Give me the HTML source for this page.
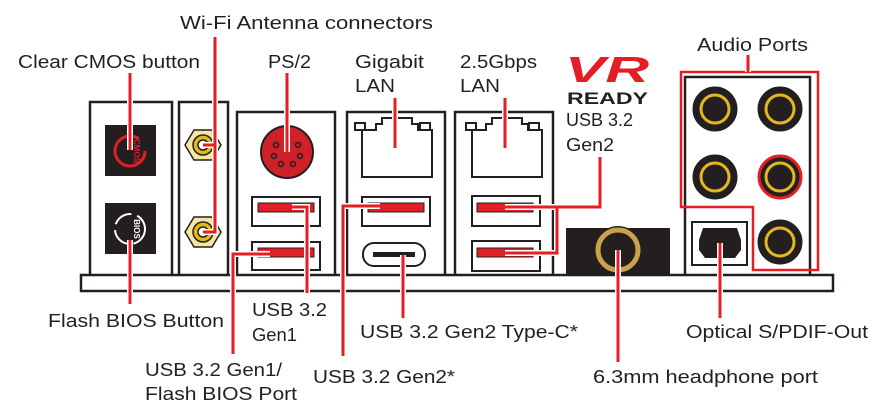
<!DOCTYPE html>
<html><head><meta charset="utf-8"><style>
html,body{margin:0;padding:0;background:#fff;width:879px;height:413px;overflow:hidden}
svg text{font-family:"Liberation Sans",sans-serif;font-size:18px;fill:#231f20}
</style></head><body>
<svg width="879" height="413" viewBox="0 0 879 413" xmlns="http://www.w3.org/2000/svg">
<g fill="#fff" stroke="#231f20" stroke-width="2.5">
<rect x="90" y="102" width="82" height="174"/>
<rect x="179" y="102" width="49" height="174"/>
<rect x="237" y="112" width="98" height="164"/>
<rect x="347" y="112" width="98" height="164"/>
<rect x="455" y="112" width="98" height="164"/>
<rect x="685" y="77" width="125" height="199"/>
<rect x="81" y="275" width="752" height="16"/>
</g>
<rect x="105" y="125" width="51" height="51" fill="#231f20"/>
<circle cx="130" cy="151" r="15" fill="none" stroke="#e31e24" stroke-width="3" stroke-dasharray="80 20"/>
<text x="0" y="0" transform="translate(134,151) rotate(90)" text-anchor="middle" style="font-size:8px;font-weight:bold;fill:#e31e24">CMOS</text>
<rect x="105" y="203" width="51" height="51" fill="#231f20"/>
<circle cx="130" cy="229" r="15" fill="none" stroke="#fff" stroke-width="2" stroke-dasharray="20 6"/>
<text x="0" y="0" transform="translate(134,229) rotate(90)" text-anchor="middle" style="font-size:8px;font-weight:bold;fill:#fff">BIOS</text>
<g stroke="#231f20" stroke-width="1.5">
<polygon points="185,145 194,130 212,130 221,145 212,160 194,160" fill="#f5e7a0"/>
<circle cx="203" cy="145" r="10" fill="#e3b81e"/><circle cx="203" cy="145" r="5" fill="#fff"/>
<polygon points="185,232 194,217 212,217 221,232 212,247 194,247" fill="#f5e7a0"/>
<circle cx="203" cy="232" r="10" fill="#e3b81e"/><circle cx="203" cy="232" r="5" fill="#fff"/>
</g>
<circle cx="287" cy="152" r="26" fill="#d12128" stroke="#231f20" stroke-width="2"/>
<g fill="none" stroke="#231f20" stroke-width="1.5">
<circle cx="276" cy="145" r="2.5"/><circle cx="298" cy="145" r="2.5"/><circle cx="274" cy="156" r="2.5"/><circle cx="300" cy="156" r="2.5"/><circle cx="281" cy="164" r="2.5"/><circle cx="293" cy="164" r="2.5"/>
</g>
<g fill="#fff" stroke="#231f20" stroke-width="2">
<rect x="252" y="197" width="68" height="29"/><rect x="252" y="242" width="68" height="28"/>
<rect x="362" y="197" width="68" height="29"/>
<rect x="472" y="196" width="68" height="30"/><rect x="472" y="241" width="68" height="30"/>
<rect x="363" y="243" width="62" height="23" rx="11"/>
</g>
<g fill="#e31e24" stroke="#231f20" stroke-width="1">
<rect x="258" y="203" width="56" height="9"/><rect x="258" y="248" width="56" height="9"/>
<rect x="368" y="203" width="56" height="9"/>
<rect x="477" y="203" width="56" height="9"/><rect x="477" y="248" width="56" height="9"/>
</g>
<rect x="373" y="252" width="42" height="5" fill="#231f20"/>
<g fill="#fff" stroke="#231f20" stroke-width="2">
<path d="M362 130 h14 v-6 h6 v-6 h30 v6 h6 v6 h14 v47 h-70 z"/>
<rect x="355" y="123" width="10" height="7"/><rect x="420" y="123" width="10" height="7"/>
<path d="M472 130 h14 v-6 h6 v-6 h30 v6 h6 v6 h14 v47 h-70 z"/>
<rect x="466" y="123" width="10" height="7"/><rect x="529" y="123" width="10" height="7"/>
</g>
<rect x="566" y="228" width="104" height="47" fill="#231f20"/>
<circle cx="618" cy="250" r="24" fill="#231f20"/>
<circle cx="618" cy="250" r="20" fill="#231f20" stroke="#c9a24a" stroke-width="5"/>
<g fill="#231f20" stroke="#e3b81e" stroke-width="3">
<circle cx="715" cy="109" r="21" stroke="#231f20"/><circle cx="715" cy="109" r="14"/>
<circle cx="780" cy="109" r="21" stroke="#231f20"/><circle cx="780" cy="109" r="14"/>
<circle cx="715" cy="177" r="21" stroke="#231f20"/><circle cx="715" cy="177" r="14"/>
<circle cx="780" cy="177" r="21" stroke="#e31e24"/><circle cx="780" cy="177" r="14"/>
<circle cx="780" cy="242" r="21" stroke="#231f20"/><circle cx="780" cy="242" r="14"/>
</g>
<rect x="692" y="222" width="55" height="43" fill="#fff" stroke="#231f20" stroke-width="2"/>
<path d="M703 228 h34 l4 12 v10 l-6 8 h-30 l-6 -8 v-10 z" fill="#231f20"/>
<path d="M681 72 H818 V270 H753 V207 H681 Z" fill="none" stroke="#e31e24" stroke-width="2.5"/>
<text x="565" y="82" style="font-size:36px;font-weight:bold;font-style:italic;fill:#e31e24" textLength="84" lengthAdjust="spacingAndGlyphs">VR</text>
<text x="567" y="104" style="font-size:17px;font-weight:bold;fill:#231f20" textLength="81" lengthAdjust="spacingAndGlyphs">READY</text>
<g fill="none" stroke="#fff" stroke-width="6">
<path d="M130 73 V150"/><path d="M215 37 V232 H203 M215 145 H203"/><path d="M287 73 V152"/>
<path d="M395 98 V148"/><path d="M505 98 V148"/>
<path d="M600 157 V207 H505 M557 207 V253 H505"/>
<path d="M130 240 V304"/><path d="M292 207 H307 V293"/><path d="M270 254 H233 V354"/>
<path d="M380 206 H343 V356"/><path d="M403 255 V318"/><path d="M618 250 V362"/><path d="M720 243 V318"/><path d="M748 55 V72"/>
</g>
<g fill="none" stroke="#e31e24" stroke-width="3">
<path d="M130 73 V150"/><path d="M215 37 V232 H203 M215 145 H203"/><path d="M287 73 V152"/>
<path d="M395 98 V148"/><path d="M505 98 V148"/>
<path d="M600 157 V207 H505 M557 207 V253 H505"/>
<path d="M130 240 V304"/><path d="M292 207 H307 V293"/><path d="M270 254 H233 V354"/>
<path d="M380 206 H343 V356"/><path d="M403 255 V318"/><path d="M618 250 V362"/><path d="M720 243 V318"/><path d="M748 55 V72"/>
</g>
<text x="180" y="29" textLength="253" lengthAdjust="spacingAndGlyphs">Wi-Fi Antenna connectors</text>
<text x="18" y="68" textLength="182" lengthAdjust="spacingAndGlyphs">Clear CMOS button</text>
<text x="268" y="68" textLength="43" lengthAdjust="spacingAndGlyphs">PS/2</text>
<text x="355" y="68" textLength="69" lengthAdjust="spacingAndGlyphs">Gigabit</text>
<text x="355" y="92" textLength="40" lengthAdjust="spacingAndGlyphs">LAN</text>
<text x="460" y="68" textLength="77" lengthAdjust="spacingAndGlyphs">2.5Gbps</text>
<text x="460" y="92" textLength="40" lengthAdjust="spacingAndGlyphs">LAN</text>
<text x="697" y="51" textLength="111" lengthAdjust="spacingAndGlyphs">Audio Ports</text>
<text x="566" y="126" textLength="67" lengthAdjust="spacingAndGlyphs">USB 3.2</text>
<text x="566" y="151" textLength="48" lengthAdjust="spacingAndGlyphs">Gen2</text>
<text x="48" y="327" textLength="176" lengthAdjust="spacingAndGlyphs">Flash BIOS Button</text>
<text x="252" y="316" textLength="75" lengthAdjust="spacingAndGlyphs">USB 3.2</text>
<text x="252" y="341" textLength="45" lengthAdjust="spacingAndGlyphs">Gen1</text>
<text x="360" y="338" textLength="218" lengthAdjust="spacingAndGlyphs">USB 3.2 Gen2 Type-C*</text>
<text x="686" y="338" textLength="182" lengthAdjust="spacingAndGlyphs">Optical S/PDIF-Out</text>
<text x="145" y="376" textLength="137" lengthAdjust="spacingAndGlyphs">USB 3.2 Gen1/</text>
<text x="145" y="400" textLength="152" lengthAdjust="spacingAndGlyphs">Flash BIOS Port</text>
<text x="313" y="383" textLength="142" lengthAdjust="spacingAndGlyphs">USB 3.2 Gen2*</text>
<text x="593" y="383" textLength="225" lengthAdjust="spacingAndGlyphs">6.3mm headphone port</text>
</svg>
</body></html>
